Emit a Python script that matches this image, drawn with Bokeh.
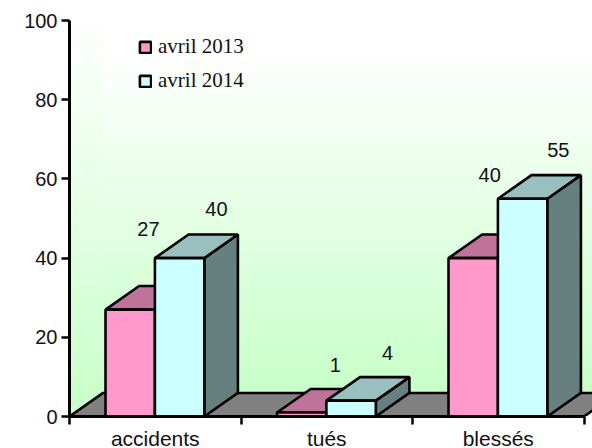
from bokeh.plotting import figure
from bokeh.embed import file_html
from bokeh.resources import INLINE
from bokeh.models import FixedTicker, Legend, LegendItem
from bokeh.core.properties import value
import numpy as np

categories = ["accidents", "tués", "blessés"]
series_2013 = [27, 1, 40]
series_2014 = [40, 4, 55]
series_names = ["avril 2013", "avril 2014"]
y_ticks = [0, 20, 40, 60, 80, 100]

PINK, PINK_TOP = "#FF99CC", "#BF7399"
CYAN, CYAN_TOP, CYAN_SIDE = "#CCFFFF", "#99BFBF", "#668080"
FLOOR = "#808080"
SANS, SERIF = "Liberation Sans", "Liberation Serif"
TEXT = "#111111"
LW = 2.6
FS = "20px"

DX, DY = 0.196, 5.95          # 3-D depth, in axis units
BAR_W, BAR0 = 0.288, 0.21     # bar width and offset inside a category

p = figure(width=592, height=448, frame_width=523, frame_height=396,
           x_range=(0, 523 / 171.5), y_range=(0, 100),
           output_backend="svg", toolbar_location=None,
           min_border_left=69, min_border_top=20, min_border_bottom=32, min_border_right=0)
p.outline_line_color = None
p.grid.visible = False
p.background_fill_color = "white"
p.border_fill_color = "white"

# gradient walls
def wall_image(n=256):
    t = np.linspace(0, 1, n)           # row 0 is the bottom of the image
    img = np.full((n, 2, 4), 255, dtype=np.uint8)
    shade = (200 + 55 * t).astype(np.uint8)[:, None]
    img[..., 0] = shade
    img[..., 2] = shade
    return img.view(dtype=np.uint32).reshape(n, 2)

p.image_rgba(image=[wall_image()], x=0, y=0, dw=DX, dh=100)
p.image_rgba(image=[wall_image()], x=DX, y=DY, dw=3.1, dh=91 - DY)

# floor
p.patch([0, DX, 3 + DX, 3], [0, DY, DY, 0], fill_color=FLOOR, line_color="black", line_width=LW)

# bars
def box(i, v, left, front, top, side=None):
    x0, x1 = i + left, i + left + BAR_W
    if side:
        p.patch([x1, x1 + DX, x1 + DX, x1], [0, DY, v + DY, v], fill_color=side, line_color="black", line_width=LW)
    p.patch([x0, x0 + DX, x1 + DX, x1], [v, v + DY, v + DY, v], fill_color=top, line_color="black", line_width=LW)
    return p.quad(left=[x0], right=[x1], bottom=[0], top=[v], fill_color=front, line_color="black", line_width=LW)

front_a, front_b = None, None
for i, (a, b) in enumerate(zip(series_2013, series_2014)):
    front_a = box(i, a, BAR0, PINK, PINK_TOP, PINK_TOP)
    front_b = box(i, b, BAR0 + BAR_W, CYAN, CYAN_TOP, CYAN_SIDE)

# value labels
label_x = [0.46, 0.857, 1.55, 1.854, 2.45, 2.85]
label_y = [47.3, 52.4, 13, 16, 61, 67.3]
label_txt = [str(v) for pair in zip(series_2013, series_2014) for v in pair]
p.text(x=label_x, y=label_y, text=label_txt, text_font=value(SANS), text_font_size=FS,
       text_align="center", text_baseline="middle", text_color=TEXT)

# axes
p.yaxis.ticker = FixedTicker(ticks=y_ticks)
p.yaxis.axis_line_width = 3
p.yaxis.major_tick_line_width = 2.5
p.yaxis.major_tick_out = 8
p.yaxis.major_tick_in = 0
p.yaxis.minor_tick_line_color = None
p.yaxis.major_label_text_font = SANS
p.yaxis.major_label_text_font_size = FS
p.yaxis.major_label_text_color = TEXT
p.yaxis.major_label_standoff = 4

p.xaxis.ticker = FixedTicker(ticks=[i + 0.5 for i in range(3)], minor_ticks=[0, 1, 2, 3])
p.xaxis.major_label_overrides = {i + 0.5: c for i, c in enumerate(categories)}
p.xaxis.axis_line_width = 3
p.xaxis.bounds = (0, 3)
p.xaxis.major_tick_line_color = None
p.xaxis.major_tick_out = 0
p.xaxis.major_tick_in = 0
p.xaxis.minor_tick_line_width = 2.5
p.xaxis.minor_tick_out = 8
p.xaxis.minor_tick_in = 0
p.xaxis.major_label_text_font = SANS
p.xaxis.major_label_text_font_size = "21px"
p.xaxis.major_label_text_color = TEXT
p.xaxis.major_label_standoff = 2

legend = Legend(items=[LegendItem(label=series_names[0], renderers=[front_a]),
                       LegendItem(label=series_names[1], renderers=[front_b])],
                location=(69, 323), padding=0, margin=0, spacing=9,
                glyph_width=14, glyph_height=14, label_height=20, label_standoff=6,
                label_text_font=SERIF, label_text_font_size="21px", label_text_color=TEXT,
                background_fill_alpha=0, border_line_color=None)
p.add_layout(legend, "center")

open("out.html", "w").write(file_html(p, INLINE))
